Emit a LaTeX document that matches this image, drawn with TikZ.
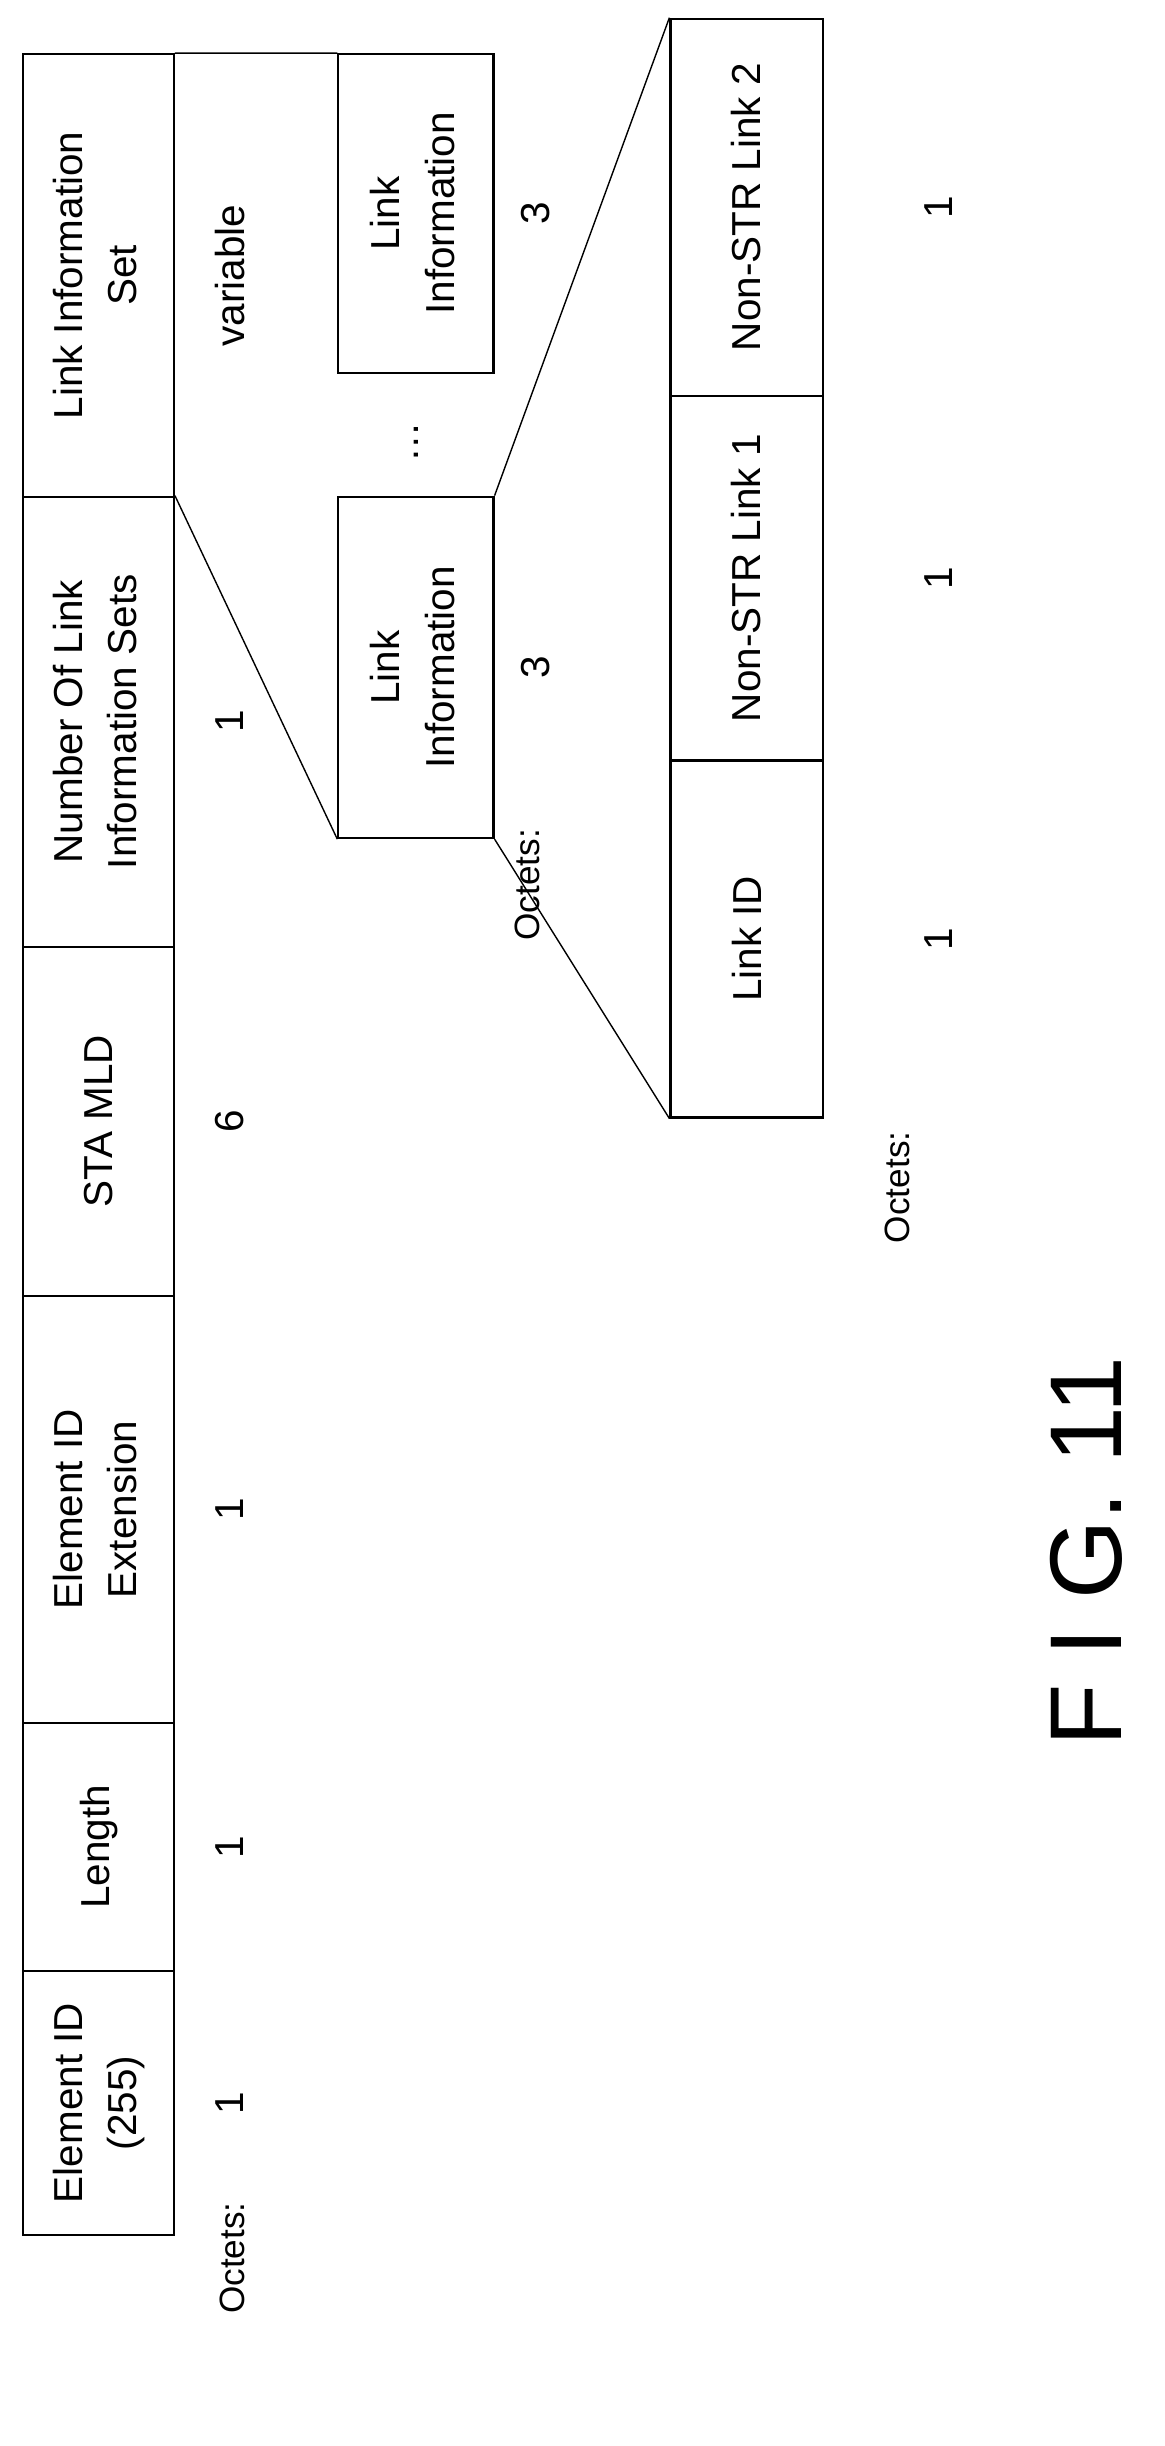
\documentclass[tikz,border=0pt]{standalone}
\usepackage{fontspec}
\setmainfont{Liberation Sans}
\begin{document}
\begin{tikzpicture}[x=0.031cm,y=-0.031cm]
\tikzset{
  field/.style={draw, very thick, minimum width=3.01cm, inner sep=0pt, font=\fontsize{23}{31}\selectfont},
  val/.style={font=\fontsize{23}{28}\selectfont, rotate=90},
  oct/.style={font=\fontsize{20}{24}\selectfont, rotate=90}
}
\useasboundingbox (0,0) rectangle (750,1576);

% Main element fields
\node[field, minimum height=5.27cm] (f1) at (63.5,1355) {\rotatebox{90}{\begin{tabular}{c}Element ID\\(255)\end{tabular}}};
\node[field, minimum height=4.96cm] (f2) at (63.5,1190) {\rotatebox{90}{Length}};
\node[field, minimum height=8.53cm] (f3) at (63.5,972.5) {\rotatebox{90}{\begin{tabular}{c}Element ID\\Extension\end{tabular}}};
\node[field, minimum height=6.98cm] (f4) at (63.5,722.5) {\rotatebox{90}{STA MLD}};
\node[field, minimum height=8.99cm] (f5) at (63.5,465) {\rotatebox{90}{\begin{tabular}{c}Number Of Link\\Information Sets\end{tabular}}};
\node[field, minimum height=8.84cm] (f6) at (63.5,177.5) {\rotatebox{90}{\begin{tabular}{c}Link Information\\Set\end{tabular}}};

% Octet counts
\node[oct] (o0) at (150,1455) {Octets:};
\node[val] (o1) at (148,1355) {1};
\node[val] (o2) at (148,1190) {1};
\node[val] (o3) at (148,972.5) {1};
\node[val] (o4) at (148,722.5) {6};
\node[val] (o5) at (148,465) {1};
\node[val] (o6) at (148,177.5) {variable};

% Link information set
\node[field, minimum width=3.1cm, minimum height=6.82cm] (li1) at (268,430) {\rotatebox{90}{\begin{tabular}{c}Link\\Information\end{tabular}}};
\node[field, minimum width=3.1cm, minimum height=6.36cm] (li2) at (268,137.5) {\rotatebox{90}{\begin{tabular}{c}Link\\Information\end{tabular}}};
\node[val] (dots) at (268,285) {\dots};
\node[val] (n1) at (345,430) {3};
\node[val] (n2) at (345,137.5) {3};
\node[oct] (o7) at (340,570) {Octets:};

% Link information
\node[field, minimum width=3.04cm, minimum height=7.13cm] (c1) at (481,605) {\rotatebox{90}{Link ID}};
\node[field, minimum width=3.04cm, minimum height=7.29cm] (c2) at (481,372.5) {\rotatebox{90}{Non-STR Link 1}};
\node[field, minimum width=3.04cm, minimum height=7.53cm] (c3) at (481,133.5) {\rotatebox{90}{Non-STR Link 2}};
\node[val] (m1) at (605,605) {1};
\node[val] (m2) at (605,372.5) {1};
\node[val] (m3) at (605,133.5) {1};
\node[oct] (o8) at (578,765) {Octets:};

% Expansion lines
\draw[thick] (f5.north east) -- (li1.south west);
\draw[thick] (f6.north east) -- (li2.north west);
\draw[thick] (li1.south east) -- (c1.south west);
\draw[thick] (li1.north east) -- (c3.north west);

\node[rotate=90, font=\fontsize{58}{66}\selectfont] (fig) at (700,1000) {F I G. 11};
\end{tikzpicture}
\end{document}
